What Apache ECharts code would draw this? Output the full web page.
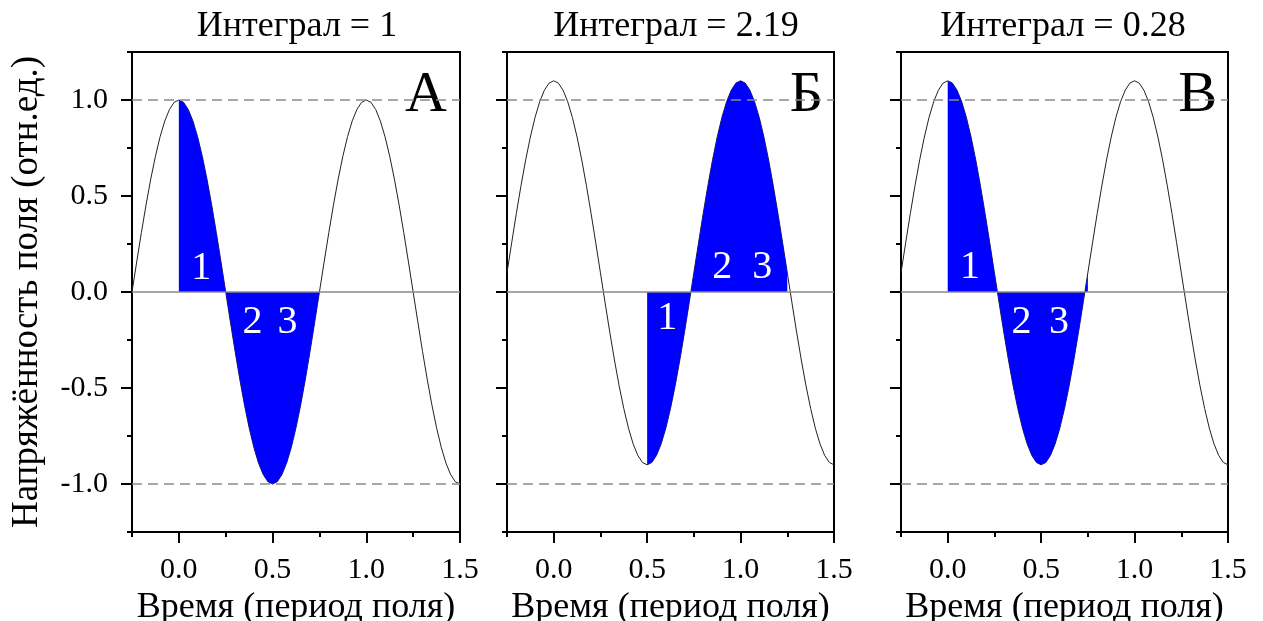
<!DOCTYPE html>
<html>
<head>
<meta charset="utf-8">
<script src="https://cdn.jsdelivr.net/npm/echarts@6/dist/echarts.min.js"></script>
<style>
  html, body { margin: 0; padding: 0; background: #fff; }
  #chart { width: 1263px; height: 621px; }
</style>
</head>
<body>
<div id="chart"></div>
<script>
// Sample times (field periods)
const TIME = [
  -0.25, -0.225, -0.2, -0.175, -0.15, -0.125, -0.1, -0.075, -0.05, -0.025,
  0, 0.025, 0.05, 0.075, 0.1, 0.125, 0.15, 0.175, 0.2, 0.225,
  0.25, 0.275, 0.3, 0.325, 0.35, 0.375, 0.4, 0.425, 0.45, 0.475,
  0.5, 0.525, 0.55, 0.575, 0.6, 0.625, 0.65, 0.675, 0.7, 0.725,
  0.75, 0.775, 0.8, 0.825, 0.85, 0.875, 0.9, 0.925, 0.95, 0.975,
  1, 1.025, 1.05, 1.075, 1.1, 1.125, 1.15, 1.175, 1.2, 1.225,
  1.25, 1.275, 1.3, 1.325, 1.35, 1.375, 1.4, 1.425, 1.45, 1.475,
  1.5
];

// Field strength, symmetric case (panel А)
const FIELD_SYM = [
  0, 0.156, 0.309, 0.454, 0.588, 0.707, 0.809, 0.891, 0.951, 0.988,
  1, 0.988, 0.951, 0.891, 0.809, 0.707, 0.588, 0.454, 0.309, 0.156,
  0, -0.156, -0.309, -0.454, -0.588, -0.707, -0.809, -0.891, -0.951, -0.988,
  -1, -0.988, -0.951, -0.891, -0.809, -0.707, -0.588, -0.454, -0.309, -0.156,
  0, 0.156, 0.309, 0.454, 0.588, 0.707, 0.809, 0.891, 0.951, 0.988,
  1, 0.988, 0.951, 0.891, 0.809, 0.707, 0.588, 0.454, 0.309, 0.156,
  0, -0.156, -0.309, -0.454, -0.588, -0.707, -0.809, -0.891, -0.951, -0.988,
  -1
];

// Field strength with a positive offset (panels Б and В)
const FIELD_SHIFT = [
  0.1, 0.256, 0.409, 0.554, 0.688, 0.807, 0.909, 0.991, 1.051, 1.088,
  1.1, 1.088, 1.051, 0.991, 0.909, 0.807, 0.688, 0.554, 0.409, 0.256,
  0.1, -0.056, -0.209, -0.354, -0.488, -0.607, -0.709, -0.791, -0.851, -0.888,
  -0.9, -0.888, -0.851, -0.791, -0.709, -0.607, -0.488, -0.354, -0.209, -0.056,
  0.1, 0.256, 0.409, 0.554, 0.688, 0.807, 0.909, 0.991, 1.051, 1.088,
  1.1, 1.088, 1.051, 0.991, 0.909, 0.807, 0.688, 0.554, 0.409, 0.256,
  0.1, -0.056, -0.209, -0.354, -0.488, -0.607, -0.709, -0.791, -0.851, -0.888,
  -0.9
];

// Integration windows [start, end] in field periods
const WINDOW_A = [0, 0.75];
const WINDOW_B = [0.5, 1.25];
const WINDOW_C = [0, 0.75];

const TITLES = ['Интеграл = 1', 'Интеграл = 2.19', 'Интеграл = 0.28'];
const LETTERS = ['А', 'Б', 'В'];

// Region numbers inside the shaded areas: [time, field, text]
const MARKS_A = [[0.12, 0.125, '1'], [0.393, -0.158, '2'], [0.58, -0.158, '3']];
const MARKS_B = [[0.607, -0.137, '1'], [0.902, 0.13, '2'], [1.116, 0.13, '3']];
const MARKS_C = [[0.119, 0.13, '1'], [0.395, -0.157, '2'], [0.596, -0.157, '3']];

// Tick positions
const X_MAJOR = [0, 0.5, 1, 1.5];
const X_MINOR = [-0.25, 0.25, 0.75, 1.25];
const Y_MAJOR = [-1, -0.5, 0, 0.5, 1];
const Y_MINOR = [-1.25, -0.75, -0.25, 0.25, 0.75, 1.25];

const X_NAME = 'Время (период поля)';
const Y_NAME = 'Напряжённость поля (отн.ед.)';

const FONT = "'Liberation Serif', 'Times New Roman', serif";

const panels = [
  { left: 132, width: 328, field: FIELD_SYM, win: WINDOW_A, marks: MARKS_A, titleX: 297, letterX: 447 },
  { left: 507, width: 327, field: FIELD_SHIFT, win: WINDOW_B, marks: MARKS_B, titleX: 676, letterX: 823 },
  { left: 901, width: 327, field: FIELD_SHIFT, win: WINDOW_C, marks: MARKS_C, titleX: 1063, letterX: 1217 }
];

const grids = [], xAxes = [], yAxes = [], series = [], graphics = [];

panels.forEach((p, i) => {
  grids.push({
    left: p.left, top: 52, width: p.width, height: 480,
    outerBoundsMode: 'none', containLabel: false,
    show: true, borderColor: '#000', borderWidth: 2, backgroundColor: 'transparent'
  });

  const xBase = {
    type: 'value', gridIndex: i, min: -0.25, max: 1.5, position: 'bottom',
    splitLine: { show: false },
    axisLine: { onZero: false, lineStyle: { color: '#000', width: 2 } }
  };
  xAxes.push(Object.assign({}, xBase, {
    name: X_NAME, nameLocation: 'middle', nameGap: 54,
    nameTextStyle: { fontFamily: FONT, fontSize: 36, color: '#000' },
    axisTick: { show: true, inside: false, length: 11, customValues: X_MAJOR, lineStyle: { color: '#000', width: 2 } },
    axisLabel: {
      show: true, customValues: X_MAJOR, margin: 23,
      fontFamily: FONT, fontSize: 30, color: '#000',
      formatter: v => v.toFixed(1)
    }
  }));
  xAxes.push(Object.assign({}, xBase, {
    axisLine: { show: false, onZero: false },
    axisTick: { show: true, length: 5, customValues: X_MINOR, lineStyle: { color: '#000', width: 2 } },
    axisLabel: { show: false }
  }));

  const yBase = {
    type: 'value', gridIndex: i, min: -1.25, max: 1.25, position: 'left',
    splitLine: { show: false },
    axisLine: { onZero: false, lineStyle: { color: '#000', width: 2 } }
  };
  const yMajor = Object.assign({}, yBase, {
    axisTick: { show: true, length: 11, customValues: Y_MAJOR, lineStyle: { color: '#000', width: 2 } },
    axisLabel: {
      show: i === 0, customValues: Y_MAJOR, margin: 24,
      fontFamily: FONT, fontSize: 30, color: '#000',
      formatter: v => v.toFixed(1)
    }
  });
  if (i === 0) {
    Object.assign(yMajor, {
      name: Y_NAME, nameLocation: 'middle', nameGap: 86,
      nameTextStyle: { fontFamily: FONT, fontSize: 37, color: '#000' }
    });
  }
  yAxes.push(yMajor);
  yAxes.push(Object.assign({}, yBase, {
    axisLine: { show: false, onZero: false },
    axisTick: { show: true, length: 5, customValues: Y_MINOR, lineStyle: { color: '#000', width: 2 } },
    axisLabel: { show: false }
  }));

  const xi = i * 2, yi = i * 2;
  const curve = TIME.map((t, k) => [t, p.field[k]]);
  const fill = curve.filter(d => d[0] >= p.win[0] - 1e-9 && d[0] <= p.win[1] + 1e-9);

  series.push({
    type: 'line', xAxisIndex: xi, yAxisIndex: yi, data: curve,
    showSymbol: false, symbol: 'none', silent: true, z: 2,
    lineStyle: { color: '#222', width: 1 }
  });
  series.push({
    type: 'line', xAxisIndex: xi, yAxisIndex: yi, data: fill,
    showSymbol: false, symbol: 'none', silent: true, z: 3,
    lineStyle: { width: 0, color: '#0000ff' },
    areaStyle: { color: '#0000ff', opacity: 1, origin: 'auto' }
  });
  series.push({
    type: 'line', xAxisIndex: xi, yAxisIndex: yi, data: [],
    silent: true, z: 4,
    markLine: {
      silent: true, symbol: 'none', label: { show: false },
      data: [
        { yAxis: 1, lineStyle: { color: '#8a8a8a', width: 1.5, type: [10, 6] } },
        { yAxis: -1, lineStyle: { color: '#8a8a8a', width: 1.5, type: [10, 6] } },
        { yAxis: 0, lineStyle: { color: '#8a8a8a', width: 1.5, type: 'solid' } }
      ],
      animation: false
    }
  });
  series.push({
    type: 'scatter', xAxisIndex: xi, yAxisIndex: yi, silent: true, z: 5,
    symbolSize: 2, itemStyle: { color: 'rgba(0,0,0,0)' },
    data: p.marks.map(m => ({ value: [m[0], m[1]], name: m[2] })),
    label: {
      show: true, position: 'inside', formatter: '{b}',
      fontFamily: FONT, fontSize: 40, color: '#ffffff', opacity: 1,
      textBorderWidth: 0, textShadowBlur: 0
    }
  });

  graphics.push({
    type: 'text', x: p.titleX, y: 27,
    style: { text: TITLES[i], font: '36px ' + FONT, fill: '#000', align: 'center', verticalAlign: 'middle' }
  });
  graphics.push({
    type: 'text', x: p.letterX, y: 96,
    style: { text: LETTERS[i], font: '58px ' + FONT, fill: '#000', align: 'right', verticalAlign: 'middle' }
  });
});

const chart = echarts.init(document.getElementById('chart'), null, { renderer: 'canvas' });
chart.setOption({
  animation: false,
  backgroundColor: '#fff',
  grid: grids,
  xAxis: xAxes,
  yAxis: yAxes,
  series: series,
  graphic: graphics
});
</script>
</body>
</html>
